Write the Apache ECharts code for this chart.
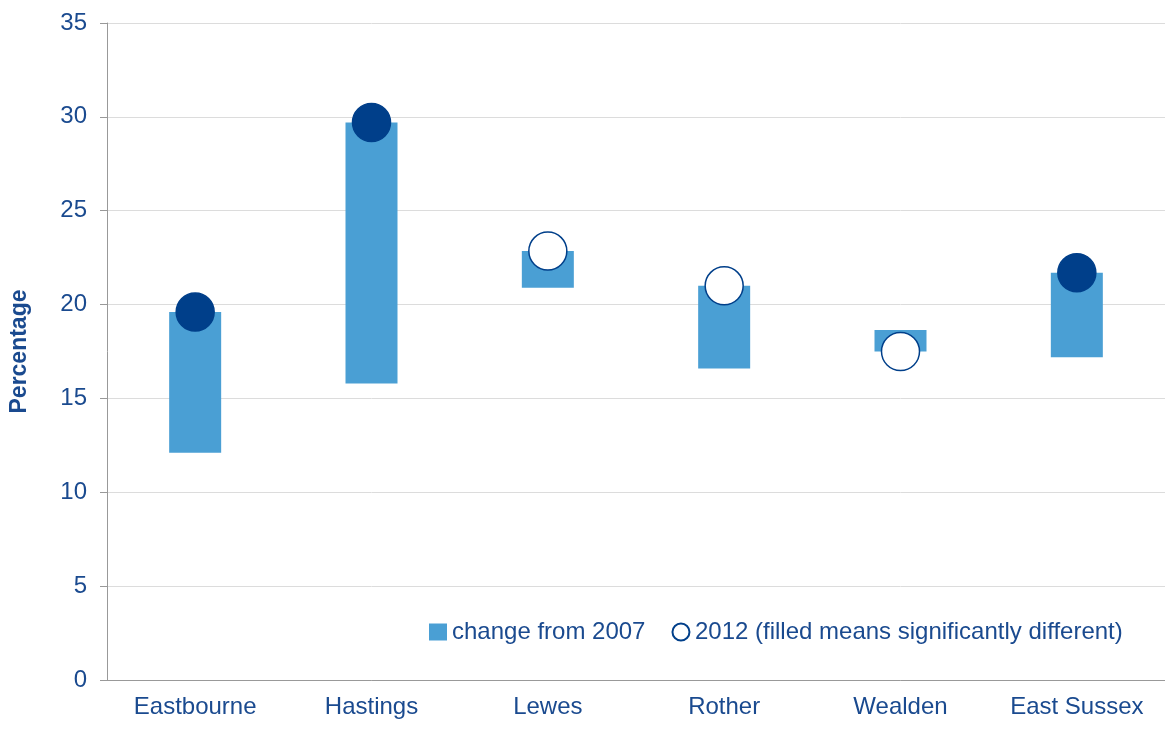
<!DOCTYPE html>
<html>
<head>
<meta charset="utf-8">
<script src="https://cdn.jsdelivr.net/npm/echarts@6/dist/echarts.min.js"></script>
<style>
  html, body { margin: 0; padding: 0; background: #fff; }
  #chart { width: 1165px; height: 731px; }
</style>
</head>
<body>
<div id="chart"></div>
<script>
// data
var areas = ['Eastbourne', 'Hastings', 'Lewes', 'Rother', 'Wealden', 'East Sussex'];
var value2007 = [12.1, 15.8, 20.9, 16.6, 18.65, 17.2];
var value2012 = [19.6, 29.7, 22.85, 21.0, 17.5, 21.7];
var significant = [true, true, false, false, false, true];

var blue = '#4a9fd4';
var navy = '#003f8a';
var txt = '#1a4a8f';

var base = [], span = [], dots = [];
for (var i = 0; i < areas.length; i++) {
    base.push(Math.min(value2007[i], value2012[i]));
    span.push(Math.abs(value2012[i] - value2007[i]));
    dots.push({
        value: value2012[i],
        itemStyle: significant[i] ? { color: navy, borderColor: navy } : { color: '#fff', borderColor: navy }
    });
}

var myChart = echarts.init(document.getElementById('chart'));
var option = {
    animation: false,
    textStyle: { fontFamily: 'Liberation Sans, Arial, sans-serif' },
    grid: { left: 104, right: 0, top: 23, bottom: 51 },
    legend: {
        left: 424, top: 615,
        itemGap: 26, itemWidth: 18, itemHeight: 17,
        textStyle: { color: txt, fontSize: 24 },
        data: [
            { name: 'change from 2007', icon: 'rect' },
            { name: '2012 (filled means significantly different)', icon: 'circle' }
        ]
    },
    xAxis: {
        type: 'category',
        data: areas,
        axisLine: { lineStyle: { color: '#999' } },
        axisTick: { length: 8, lineStyle: { color: '#999' } },
        axisLabel: { color: txt, fontSize: 24, margin: 15, interval: 0, hideOverlap: false }
    },
    yAxis: {
        type: 'value',
        min: 0, max: 35, interval: 5,
        name: 'Percentage',
        nameLocation: 'middle',
        nameGap: 76,
        nameTextStyle: { color: txt, fontSize: 23, fontWeight: 'bold' },
        axisLine: { show: true, lineStyle: { color: '#999' } },
        axisTick: { show: true, length: 7, lineStyle: { color: '#999' } },
        axisLabel: { color: txt, fontSize: 24, margin: 20 },
        splitLine: { lineStyle: { color: '#dcdcdc' } }
    },
    series: [
        {
            name: 'base', type: 'bar', stack: 's', barWidth: 52,
            itemStyle: { color: 'transparent' },
            data: base
        },
        {
            name: 'change from 2007', type: 'bar', stack: 's', barWidth: 52,
            itemStyle: { color: blue },
            data: span
        },
        {
            name: '2012 (filled means significantly different)', type: 'scatter',
            symbolSize: 38, z: 5,
            itemStyle: { color: '#fff', borderColor: navy, borderWidth: 1.5, opacity: 1 },
            data: dots
        }
    ]
};
myChart.setOption(option);
</script>
</body>
</html>
